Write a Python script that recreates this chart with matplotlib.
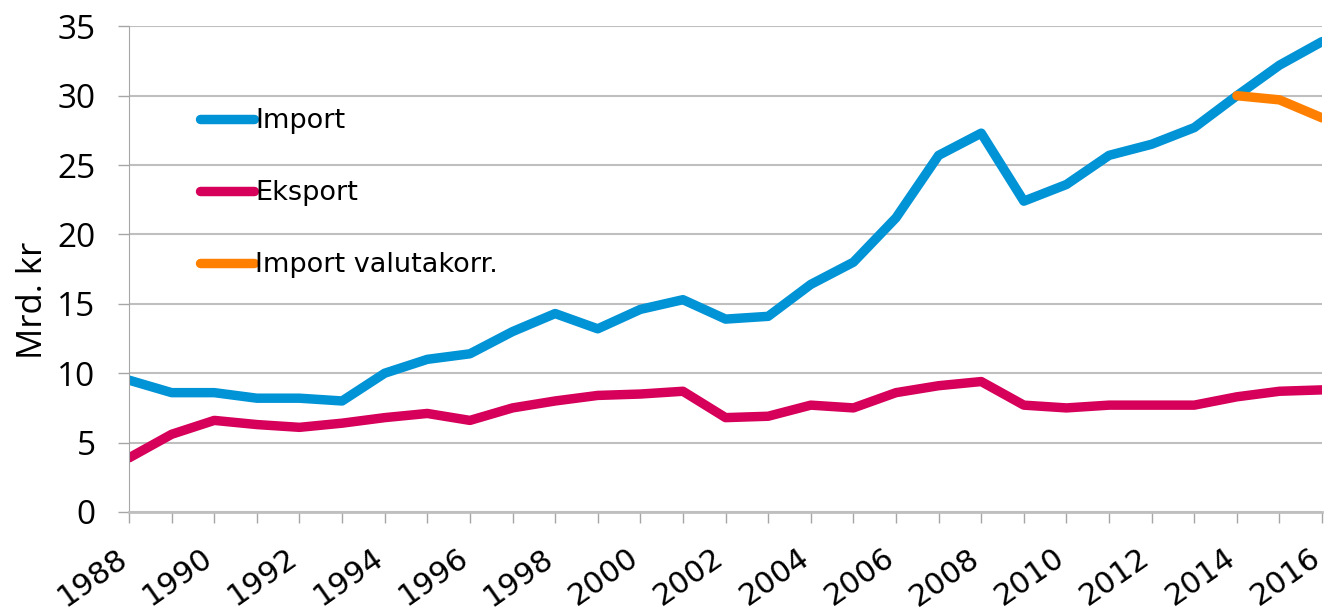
import matplotlib
matplotlib.use('Agg')
import matplotlib.pyplot as plt

# Data (Mrd. kr)
years = list(range(1988, 2017))
import_vals = [9.5, 8.6, 8.6, 8.2, 8.2, 8.0, 10.0, 11.0, 11.4, 13.0, 14.3,
               13.2, 14.6, 15.3, 13.9, 14.1, 16.4, 18.0, 21.2, 25.7, 27.3,
               22.4, 23.6, 25.7, 26.5, 27.7, 30.0, 32.2, 33.9]
eksport_vals = [3.9, 5.6, 6.6, 6.3, 6.1, 6.4, 6.8, 7.1, 6.6, 7.5, 8.0,
                8.4, 8.5, 8.7, 6.8, 6.9, 7.7, 7.5, 8.6, 9.1, 9.4,
                7.7, 7.5, 7.7, 7.7, 7.7, 8.3, 8.7, 8.8]
valuta_years = [2014, 2015, 2016]
valuta_vals = [30.0, 29.7, 28.4]

plt.rcParams['font.family'] = ['Open Sans', 'DejaVu Sans']

fig = plt.figure(figsize=(13.29, 6.09), dpi=100)
ax = fig.add_axes([0.0971, 0.1593, 0.8977, 0.7975])

lw = 6.8
style = dict(linewidth=lw, solid_capstyle='round', solid_joinstyle='round')
ax.plot(years, import_vals, color='#0093D6', label='Import', **style)
ax.plot(years, eksport_vals, color='#D6005A', label='Eksport', **style)
ax.plot(valuta_years, valuta_vals, color='#FF8000', label='Import valutakorr.', **style)

ax.set_xlim(1988, 2016)
ax.set_ylim(0, 35)
ax.set_yticks(range(0, 36, 5))
ax.set_xticks(years, minor=True)
ax.set_xticks(range(1988, 2017, 2))
ax.tick_params(axis='y', labelsize=24, length=8, color='#A6A6A6', width=1, pad=16)
ax.tick_params(axis='x', which='both', length=8, color='#A6A6A6', width=1)
ax.tick_params(axis='x', which='major', pad=28)

# rotated year labels, Verdana-like, baseline end sits under the tick
for lbl in ax.get_xticklabels():
    lbl.set_fontfamily('DejaVu Sans')
    lbl.set_fontsize(22)
    lbl.set_rotation(35)
    lbl.set_ha('right')
    lbl.set_va('baseline')
    lbl.set_rotation_mode('anchor')

ax.grid(True, axis='y', color='#BFBFBF', linewidth=1.5)
ax.set_axisbelow(True)
for side in ['top', 'right']:
    ax.spines[side].set_visible(False)
ax.spines['left'].set_color('#A6A6A6')
ax.spines['bottom'].set_color('#BFBFBF')
ax.spines['bottom'].set_linewidth(2)

ax.set_ylabel('Mrd. kr', fontsize=25, va='center')
ax.yaxis.set_label_coords(-0.0805, 0.435)

ax.legend(loc='upper left', bbox_to_anchor=(0.05, 0.854), frameon=False,
          handlelength=2.0, handletextpad=0.05, labelspacing=1.7,
          borderaxespad=0, prop={'family': 'DejaVu Sans', 'size': 19.5})

fig.savefig('out.png', dpi=100)
plt.close(fig)
